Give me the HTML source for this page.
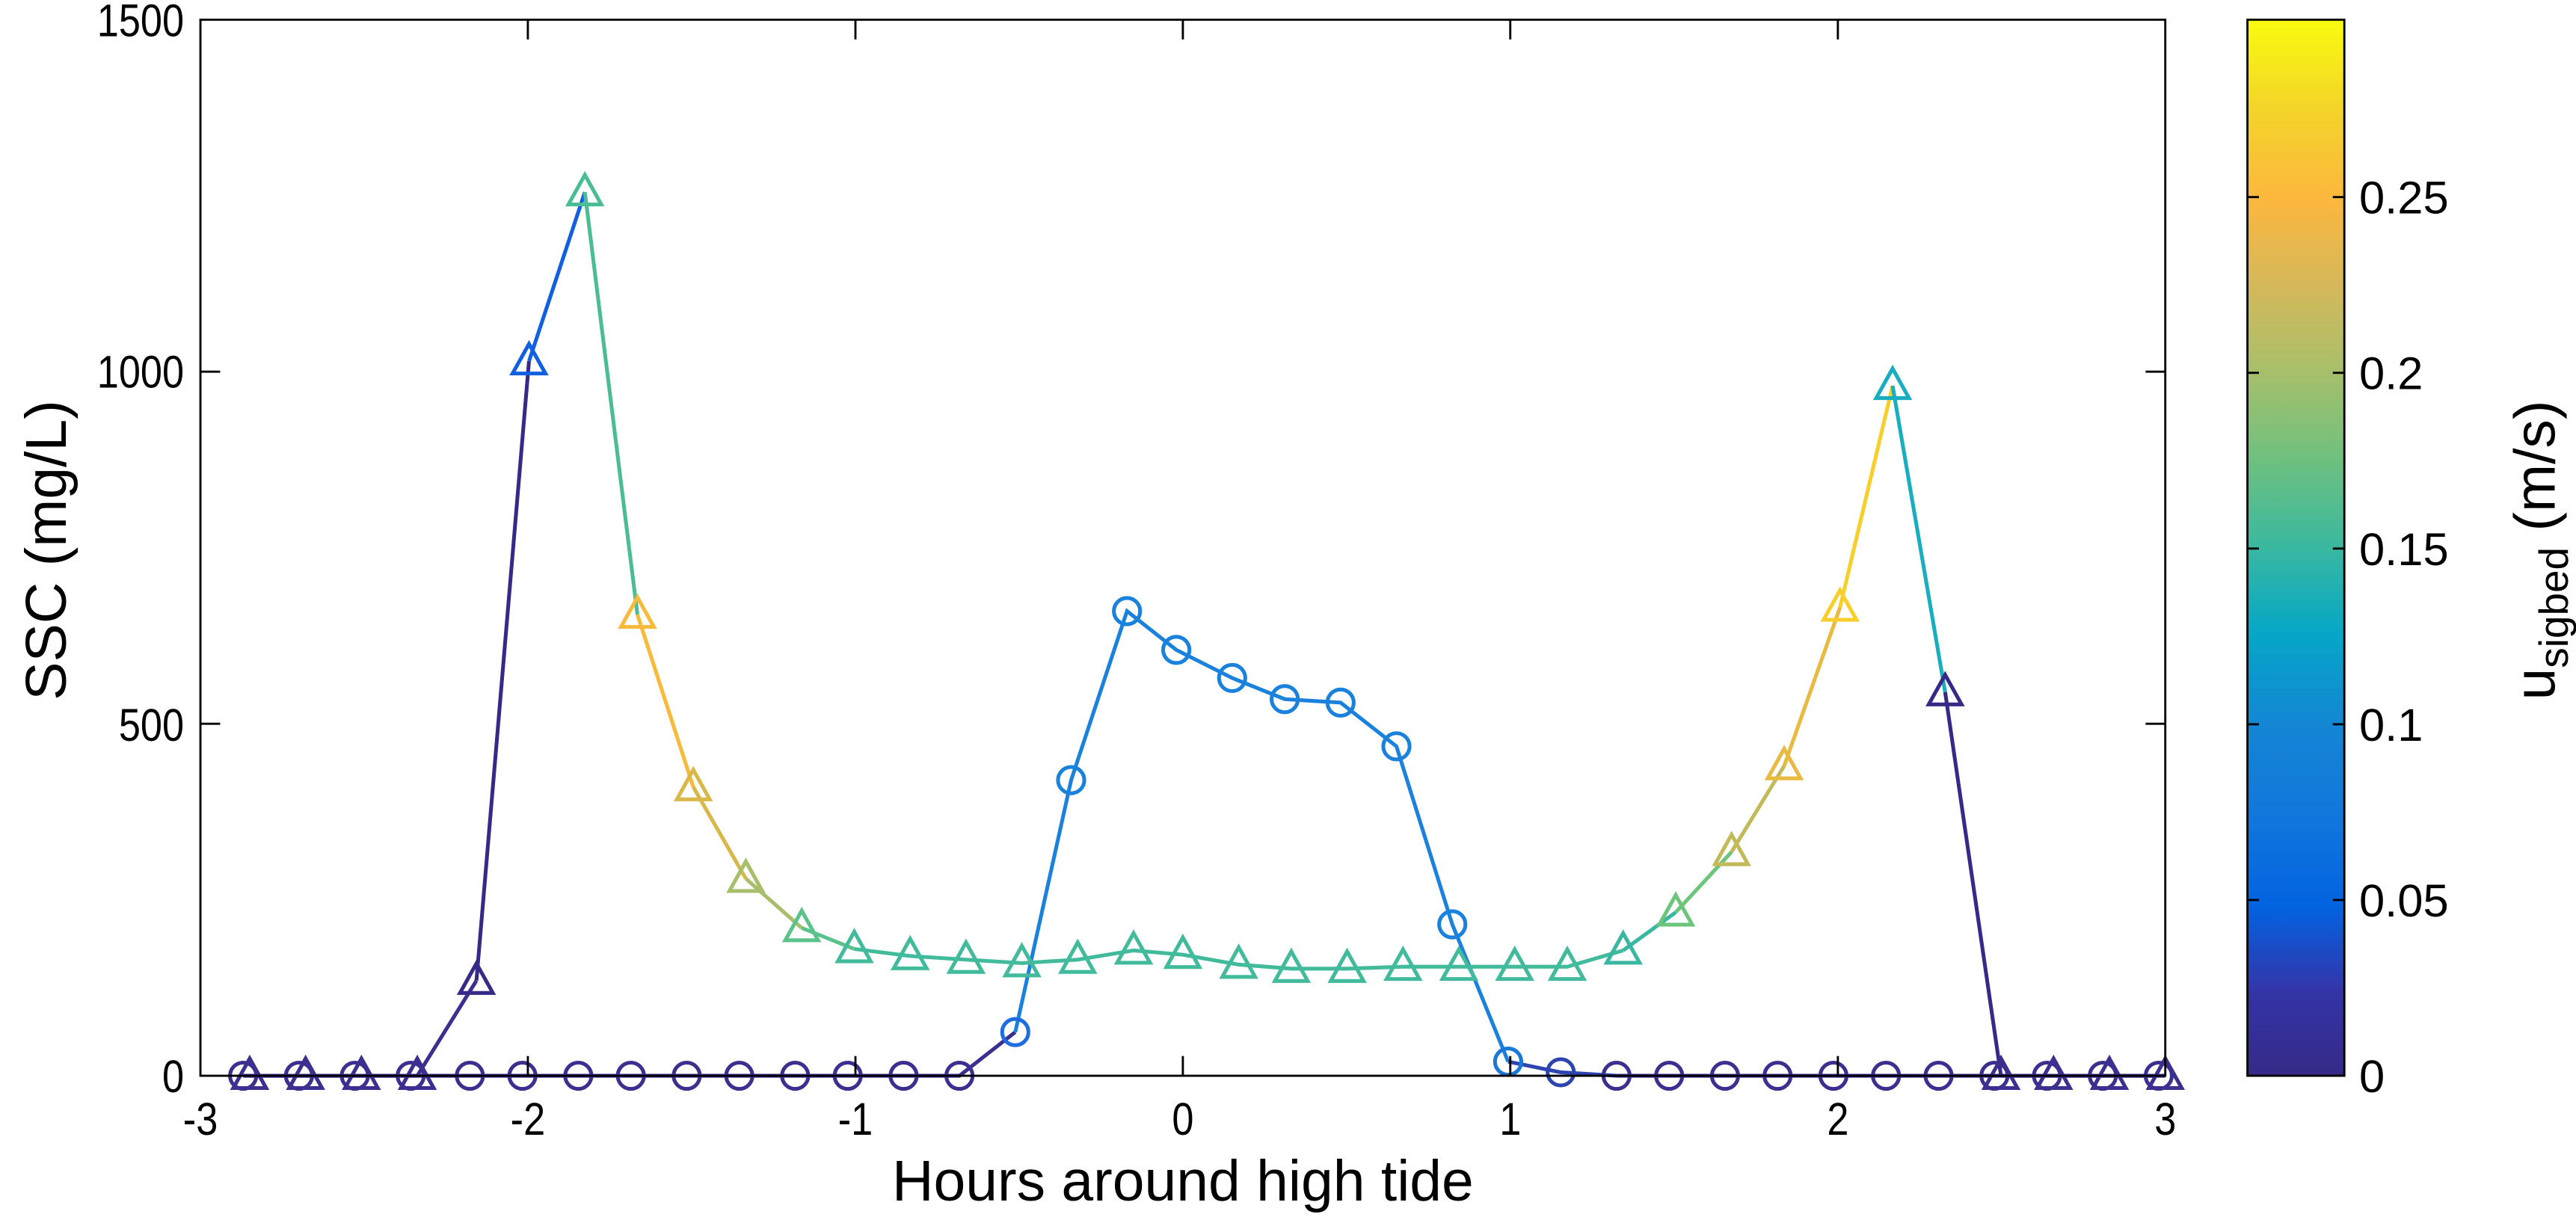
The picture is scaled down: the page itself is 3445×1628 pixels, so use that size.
<!DOCTYPE html>
<html><head><meta charset="utf-8"><style>
html,body{margin:0;padding:0;background:#fff;}
svg{display:block;}
text{font-family:"Liberation Sans",Arial,sans-serif;fill:#000;}
</style></head><body>
<svg width="3445" height="1628" viewBox="0 0 1568 741" preserveAspectRatio="none" xmlns="http://www.w3.org/2000/svg" xmlns:xlink="http://www.w3.org/1999/xlink">
<defs>
<linearGradient id="parula" x1="0" y1="1" x2="0" y2="0">
<stop offset="0" stop-color="#352a87"/>
<stop offset="0.08" stop-color="#3434a8"/>
<stop offset="0.16" stop-color="#0363e1"/>
<stop offset="0.25" stop-color="#1278db"/>
<stop offset="0.33" stop-color="#1485d4"/>
<stop offset="0.42" stop-color="#06a7c6"/>
<stop offset="0.5" stop-color="#3ab8a0"/>
<stop offset="0.58" stop-color="#6cc080"/>
<stop offset="0.67" stop-color="#a9bf6a"/>
<stop offset="0.75" stop-color="#d5b85a"/>
<stop offset="0.83" stop-color="#fcb73e"/>
<stop offset="0.92" stop-color="#f3d628"/>
<stop offset="1" stop-color="#f9fb0e"/>
</linearGradient>
<path id="t" d="M0,-10.5 L-10,7.5 L10,7.5 Z" fill="none" stroke-width="2.3"/>
<circle id="c" cx="0" cy="0" r="8" fill="none" stroke-width="2.3"/>
</defs>

<g fill="none" stroke-width="2.3">
<polyline stroke="#3b2f8f" points="148,655 182,655 216,655 250,655 286,655 318,655 352,655 384,655 418,655 450,655 484,655 516,655 550,655 584,655 618,628.4"/>
<polyline stroke="#1a82dc" points="618,628.4 652,475 686,372.1 716,395.7 750,412.8 782,425.7 816,427.8 850,454.4 884,562.8 918,646.4"/>
<polyline stroke="#2e45b0" points="918,646.4 950,652.9 984,655"/>
<polyline stroke="#3b2f8f" points="984,655 1016,655 1050,655 1082,655 1116,655 1148,655 1180,655 1214,655 1246,655 1280,655 1314,655"/>
</g>

<g fill="none" stroke-width="2.3">
<polyline stroke="#3b2f8f" points="152,655 186,655 220,655 254,655 290,597.1"/>
<line stroke="#352a87" x1="290" y1="597.1" x2="322" y2="219.9"/>
<line stroke="#1060e0" x1="322" y1="219.9" x2="356" y2="117"/>
<line stroke="#4bbd94" x1="356" y1="117" x2="388" y2="374.2"/>
<line stroke="#f8ba3a" x1="388" y1="374.2" x2="422" y2="479.2"/>
<line stroke="#d9b84a" x1="422" y1="479.2" x2="454" y2="535"/>
<line stroke="#a8be6a" x1="454" y1="535" x2="488" y2="565"/>
<line stroke="#5cc28b" x1="488" y1="565" x2="520" y2="577.8"/>
<polyline stroke="#42ba9c" points="520,577.8 554,582.1 588,584.3 622,586.4 656,584.3 690,578.7 720,581.3 754,587.3 786,589.8 820,589.8 854,588.6 888,588.6 922,588.6 954,588.6 988,578.7"/>
<line stroke="#3ab7a0" x1="988" y1="578.7" x2="1020" y2="555.5"/>
<line stroke="#6cc57b" x1="1020" y1="555.5" x2="1054" y2="518.7"/>
<line stroke="#c2ba58" x1="1054" y1="518.7" x2="1086" y2="466.4"/>
<line stroke="#e8ba41" x1="1086" y1="466.4" x2="1120" y2="369.9"/>
<line stroke="#f8cf2a" x1="1120" y1="369.9" x2="1152" y2="234.9"/>
<line stroke="#18aec0" x1="1152" y1="234.9" x2="1184" y2="421.4"/>
<line stroke="#352a87" x1="1184" y1="421.4" x2="1218" y2="655"/>
<polyline stroke="#3b2f8f" points="1218,655 1250,655 1284,655 1318,655"/>
</g>

<g stroke="#3b2f8f">
<use xlink:href="#c" x="148" y="655"/><use xlink:href="#c" x="182" y="655"/><use xlink:href="#c" x="216" y="655"/><use xlink:href="#c" x="250" y="655"/>
<use xlink:href="#c" x="286" y="655"/><use xlink:href="#c" x="318" y="655"/><use xlink:href="#c" x="352" y="655"/><use xlink:href="#c" x="384" y="655"/>
<use xlink:href="#c" x="418" y="655"/><use xlink:href="#c" x="450" y="655"/><use xlink:href="#c" x="484" y="655"/><use xlink:href="#c" x="516" y="655"/>
<use xlink:href="#c" x="550" y="655"/><use xlink:href="#c" x="584" y="655"/>
<use xlink:href="#c" x="984" y="655"/><use xlink:href="#c" x="1016" y="655"/><use xlink:href="#c" x="1050" y="655"/><use xlink:href="#c" x="1082" y="655"/>
<use xlink:href="#c" x="1116" y="655"/><use xlink:href="#c" x="1148" y="655"/><use xlink:href="#c" x="1180" y="655"/><use xlink:href="#c" x="1214" y="655"/>
<use xlink:href="#c" x="1246" y="655"/><use xlink:href="#c" x="1280" y="655"/><use xlink:href="#c" x="1314" y="655"/>
</g>
<use xlink:href="#c" x="618" y="628.4" stroke="#1e6ce0"/>
<g stroke="#1a82dc">
<use xlink:href="#c" x="652" y="475"/><use xlink:href="#c" x="686" y="372.1"/><use xlink:href="#c" x="716" y="395.7"/>
<use xlink:href="#c" x="750" y="412.8"/><use xlink:href="#c" x="782" y="425.7"/><use xlink:href="#c" x="816" y="427.8"/>
<use xlink:href="#c" x="850" y="454.4"/><use xlink:href="#c" x="884" y="562.8"/>
</g>
<use xlink:href="#c" x="918" y="646.4" stroke="#1a78d8"/>
<use xlink:href="#c" x="950" y="652.9" stroke="#2e45b0"/>

<g stroke="#3b2f8f">
<use xlink:href="#t" x="152" y="655"/><use xlink:href="#t" x="186" y="655"/><use xlink:href="#t" x="220" y="655"/><use xlink:href="#t" x="254" y="655"/>
<use xlink:href="#t" x="1218" y="655"/><use xlink:href="#t" x="1250" y="655"/><use xlink:href="#t" x="1284" y="655"/><use xlink:href="#t" x="1318" y="655"/>
</g>
<use xlink:href="#t" x="290" y="597.1" stroke="#352a87"/>
<use xlink:href="#t" x="322" y="219.9" stroke="#1060e0"/>
<use xlink:href="#t" x="356" y="117" stroke="#4bbd94"/>
<use xlink:href="#t" x="388" y="374.2" stroke="#f8ba3a"/>
<use xlink:href="#t" x="422" y="479.2" stroke="#d9b84a"/>
<use xlink:href="#t" x="454" y="535" stroke="#a8be6a"/>
<use xlink:href="#t" x="488" y="565" stroke="#5cc28b"/>
<g stroke="#42ba9c">
<use xlink:href="#t" x="520" y="577.8"/><use xlink:href="#t" x="554" y="582.1"/><use xlink:href="#t" x="588" y="584.3"/>
<use xlink:href="#t" x="622" y="586.4"/><use xlink:href="#t" x="656" y="584.3"/><use xlink:href="#t" x="690" y="578.7"/>
<use xlink:href="#t" x="720" y="581.3"/><use xlink:href="#t" x="754" y="587.3"/><use xlink:href="#t" x="786" y="589.8"/>
<use xlink:href="#t" x="820" y="589.8"/><use xlink:href="#t" x="854" y="588.6"/><use xlink:href="#t" x="888" y="588.6"/>
<use xlink:href="#t" x="922" y="588.6"/><use xlink:href="#t" x="954" y="588.6"/>
</g>
<use xlink:href="#t" x="988" y="578.7" stroke="#3ab7a0"/>
<use xlink:href="#t" x="1020" y="555.5" stroke="#6cc57b"/>
<use xlink:href="#t" x="1054" y="518.7" stroke="#c2ba58"/>
<use xlink:href="#t" x="1086" y="466.4" stroke="#e8ba41"/>
<use xlink:href="#t" x="1120" y="369.9" stroke="#f8cf2a"/>
<use xlink:href="#t" x="1152" y="234.9" stroke="#18aec0"/>
<use xlink:href="#t" x="1184" y="421.4" stroke="#352a87"/>

<rect x="122" y="12" width="1196" height="643" fill="none" stroke="#000" stroke-width="1.3"/>
<g stroke="#000" stroke-width="1.3">
<line x1="321.3" y1="655" x2="321.3" y2="643"/><line x1="321.3" y1="12" x2="321.3" y2="24"/>
<line x1="520.7" y1="655" x2="520.7" y2="643"/><line x1="520.7" y1="12" x2="520.7" y2="24"/>
<line x1="720" y1="655" x2="720" y2="643"/><line x1="720" y1="12" x2="720" y2="24"/>
<line x1="919.3" y1="655" x2="919.3" y2="643"/><line x1="919.3" y1="12" x2="919.3" y2="24"/>
<line x1="1118.7" y1="655" x2="1118.7" y2="643"/><line x1="1118.7" y1="12" x2="1118.7" y2="24"/>
<line x1="122" y1="440.7" x2="134" y2="440.7"/><line x1="1318" y1="440.7" x2="1306" y2="440.7"/>
<line x1="122" y1="226.3" x2="134" y2="226.3"/><line x1="1318" y1="226.3" x2="1306" y2="226.3"/>
</g>
<g font-size="28" text-anchor="middle">
<text transform="translate(122,691) scale(0.85,1)">-3</text>
<text transform="translate(321.3,691) scale(0.85,1)">-2</text>
<text transform="translate(520.7,691) scale(0.85,1)">-1</text>
<text transform="translate(720,691) scale(0.85,1)">0</text>
<text transform="translate(919.3,691) scale(0.85,1)">1</text>
<text transform="translate(1118.7,691) scale(0.85,1)">2</text>
<text transform="translate(1318,691) scale(0.85,1)">3</text>
</g>
<g font-size="28" text-anchor="end">
<text transform="translate(112,665) scale(0.85,1)">0</text>
<text transform="translate(112,451) scale(0.85,1)">500</text>
<text transform="translate(112,236) scale(0.85,1)">1000</text>
<text transform="translate(112,22) scale(0.85,1)">1500</text>
</g>
<text x="720" y="731" font-size="35" text-anchor="middle">Hours around high tide</text>
<text transform="translate(40,335) rotate(-90)" font-size="35" text-anchor="middle">SSC (mg/L)</text>
<rect x="1368" y="12" width="59" height="643" fill="url(#parula)" stroke="#000" stroke-width="1.3"/>
<g stroke="#000" stroke-width="1.3">
<line x1="1368" y1="548" x2="1375" y2="548"/><line x1="1427" y1="548" x2="1420" y2="548"/>
<line x1="1368" y1="441" x2="1375" y2="441"/><line x1="1427" y1="441" x2="1420" y2="441"/>
<line x1="1368" y1="334" x2="1375" y2="334"/><line x1="1427" y1="334" x2="1420" y2="334"/>
<line x1="1368" y1="227" x2="1375" y2="227"/><line x1="1427" y1="227" x2="1420" y2="227"/>
<line x1="1368" y1="120" x2="1375" y2="120"/><line x1="1427" y1="120" x2="1420" y2="120"/>
</g>
<g font-size="28">
<text x="1436" y="665">0</text><text x="1436" y="558">0.05</text><text x="1436" y="451">0.1</text>
<text x="1436" y="344">0.15</text><text x="1436" y="237">0.2</text><text x="1436" y="130">0.25</text>
</g>
<text transform="translate(1555,335) rotate(-90)" font-size="35" text-anchor="middle">u<tspan font-size="25" dy="8">sigbed</tspan><tspan dy="-8"> (m/s)</tspan></text>
</svg>
</body></html>
